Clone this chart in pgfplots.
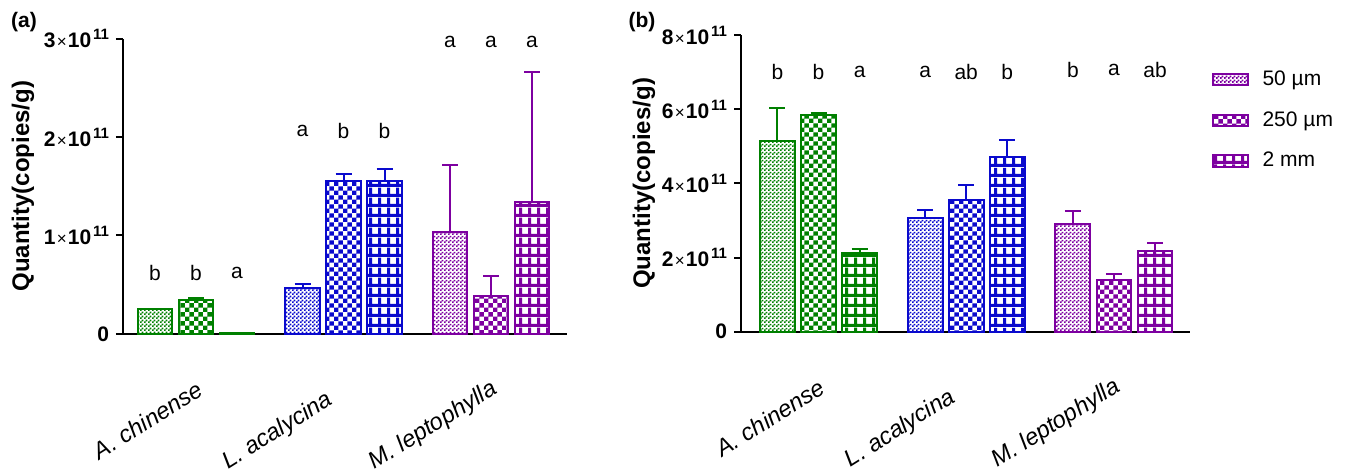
\documentclass[border=0pt]{standalone}
\usepackage{fontspec}
\setmainfont{Liberation Sans}
\usepackage{pgfplots}
\pgfplotsset{compat=1.18}
\usetikzlibrary{patterns}

\definecolor{cg}{RGB}{0,128,0}
\definecolor{cb}{RGB}{10,10,205}
\definecolor{cp}{RGB}{125,0,160}

% 50 um: fine checkerboard
\pgfdeclarepatternformonly{finecheck}{\pgfpointorigin}{\pgfpoint{2pt}{2pt}}{\pgfpoint{2pt}{2pt}}{%
  \pgfpathrectangle{\pgfpointorigin}{\pgfpoint{1.05pt}{1.05pt}}%
  \pgfpathrectangle{\pgfpoint{1pt}{1pt}}{\pgfpoint{1pt}{1pt}}%
  \pgfusepath{fill}}
% 250 um: coarse checkerboard
\pgfdeclarepatternformonly{medcheck}{\pgfpointorigin}{\pgfpoint{4.4pt}{4.4pt}}{\pgfpoint{4.4pt}{4.4pt}}{%
  \pgfpathrectangle{\pgfpointorigin}{\pgfpoint{2.2pt}{2.2pt}}%
  \pgfpathrectangle{\pgfpoint{2.2pt}{2.2pt}}{\pgfpoint{2.2pt}{2.2pt}}%
  \pgfusepath{fill}}
% 2 mm: grid with white squares
\pgfdeclarepatternformonly{gridsq}{\pgfpointorigin}{\pgfpoint{4.4pt}{4.8pt}}{\pgfpoint{4.4pt}{4.8pt}}{%
  \pgfpathrectangle{\pgfpointorigin}{\pgfpoint{4.4pt}{1.6pt}}%
  \pgfpathrectangle{\pgfpointorigin}{\pgfpoint{1.5pt}{4.8pt}}%
  \pgfusepath{fill}}

\newcommand{\sci}[1]{\textbf{#1}\hspace{0.6pt}{\fontsize{8.5}{8.5}\selectfont ×}\hspace{0.6pt}\textbf{10}\hspace{0.9pt}\raisebox{4pt}{\fontsize{7.5}{7.5}\selectfont\textbf{11}}}

\pgfplotsset{
  sA/.style={draw=#1, pattern=finecheck, pattern color=#1, line width=1pt},
  sB/.style={draw=#1, pattern=medcheck, pattern color=#1, line width=1pt},
  sC/.style={draw=#1, pattern=gridsq, pattern color=#1, line width=1pt},
  eb/.style={/pgfplots/error bars/y dir=plus, /pgfplots/error bars/y explicit,
    /pgfplots/error bars/error bar style={line width=1pt, draw=#1, solid},
    /pgfplots/error bars/error mark options={rotate=90, mark size=4pt, line width=1pt, draw=#1}},
  common/.style={
    scale only axis,
    ybar, bar shift=0pt, bar width=0.236,
    axis lines*=left,
    axis line style={-, line width=1.2pt, black},
    ymin=0,
    xtick={0,1,2},
    xticklabels={{A. chinense\hspace*{-3pt}}, {L. acalycina\hspace*{7pt}}, {M. leptophylla\hspace*{-3pt}}},
    xtick style={draw=none},
    xticklabel style={font=\fontsize{11.8}{14}\selectfont\itshape, xshift=2.5pt, yshift=-23pt, rotate=32, anchor=east},
    tick align=outside,
    major tick length=3.5pt,
    ytick style={line width=1pt, black},
    yticklabel style={font=\fontsize{10.5}{12}\selectfont},
    ylabel={Quantity(copies/g)},
    ylabel style={font=\bfseries\fontsize{12}{14}\selectfont, anchor=center},
    clip=false,
  },
}

\begin{document}
\begin{tikzpicture}
\useasboundingbox (0,0) rectangle (677.5pt,235.5pt);
\node[font=\bfseries\fontsize{10.5}{12}\selectfont] at (12pt,224.5pt) {(a)};
\node[font=\bfseries\fontsize{10.5}{12}\selectfont] at (321pt,224.5pt) {(b)};

% ---------------- (a)
\begin{axis}[common,
  at={(61.5pt,68.5pt)}, anchor=south west,
  width=222pt, height=147.75pt,
  xmin=-0.495, xmax=2.515, ymax=3,
  ytick={0,1,2,3},
  yticklabels={\textbf{0},\sci{1},\sci{2},\sci{3}},
  ylabel style={at={(axis description cs:-0.225,0.5)}},
]
\addplot[sA=cg, eb=cg, forget plot] coordinates {(-0.278,0.25) +- (0,0.005)};
\addplot[sB=cg, eb=cg, forget plot] coordinates {(0,0.35) +- (0,0.015)};
\addplot[sC=cg, forget plot] coordinates {(0.278,0.012)};
\addplot[sA=cb, eb=cb, forget plot] coordinates {(0.722,0.47) +- (0,0.04)};
\addplot[sB=cb, eb=cb, forget plot] coordinates {(1,1.55) +- (0,0.07)};
\addplot[sC=cb, eb=cb, forget plot] coordinates {(1.278,1.55) +- (0,0.13)};
\addplot[sA=cp, eb=cp, forget plot] coordinates {(1.722,1.04) +- (0,0.68)};
\addplot[sB=cp, eb=cp, forget plot] coordinates {(2,0.39) +- (0,0.20)};
\addplot[sC=cp, eb=cp, forget plot] coordinates {(2.278,1.34) +- (0,1.32)};
\begin{scope}[font=\fontsize{10.5}{12}\selectfont]
\node at (axis cs:-0.278,0.62) {b};
\node at (axis cs:0,0.62) {b};
\node at (axis cs:0.278,0.62) {a};
\node at (axis cs:0.722,2.06) {a};
\node at (axis cs:1,2.06) {b};
\node at (axis cs:1.278,2.06) {b};
\node at (axis cs:1.722,2.97) {a};
\node at (axis cs:2,2.97) {a};
\node at (axis cs:2.278,2.97) {a};
\end{scope}
\end{axis}

% ---------------- (b)
\begin{axis}[common,
  at={(370.5pt,69.65pt)}, anchor=south west,
  width=224.5pt, height=148.35pt,
  xmin=-0.525, xmax=2.515, ymax=8,
  ytick={0,2,4,6,8},
  yticklabels={\textbf{0},\sci{2},\sci{4},\sci{6},\sci{8}},
  ylabel style={at={(axis description cs:-0.216,0.5)}},
  legend style={draw=none, fill=none, at={(axis description cs:1.049,0.712)}, anchor=west,
    font=\fontsize{10.5}{12}\selectfont, row sep=7.5pt, column sep=5pt, inner sep=0pt},
  legend cell align=left,
]
\addlegendimage{area legend, sA=cp}
\addlegendentry{50 µm}
\addlegendimage{area legend, sB=cp}
\addlegendentry{250 µm}
\addlegendimage{area legend, sC=cp}
\addlegendentry{2 mm}
\addplot[sA=cg, eb=cg, forget plot] coordinates {(-0.278,5.15) +- (0,0.87)};
\addplot[sB=cg, eb=cg, forget plot] coordinates {(0,5.83) +- (0,0.07)};
\addplot[sC=cg, eb=cg, forget plot] coordinates {(0.278,2.13) +- (0,0.09)};
\addplot[sA=cb, eb=cb, forget plot] coordinates {(0.722,3.06) +- (0,0.22)};
\addplot[sB=cb, eb=cb, forget plot] coordinates {(1,3.55) +- (0,0.41)};
\addplot[sC=cb, eb=cb, forget plot] coordinates {(1.278,4.72) +- (0,0.45)};
\addplot[sA=cp, eb=cp, forget plot] coordinates {(1.722,2.90) +- (0,0.36)};
\addplot[sB=cp, eb=cp, forget plot] coordinates {(2,1.39) +- (0,0.16)};
\addplot[sC=cp, eb=cp, forget plot] coordinates {(2.278,2.18) +- (0,0.20)};
\begin{scope}[font=\fontsize{10.5}{12}\selectfont]
\node at (axis cs:-0.278,7.0) {b};
\node at (axis cs:0,7.0) {b};
\node at (axis cs:0.278,7.0) {a};
\node at (axis cs:0.722,7.0) {a};
\node at (axis cs:1,7.0) {ab};
\node at (axis cs:1.278,7.0) {b};
\node at (axis cs:1.722,7.05) {b};
\node at (axis cs:2,7.05) {a};
\node at (axis cs:2.278,7.05) {ab};
\end{scope}
\end{axis}
\end{tikzpicture}
\end{document}
